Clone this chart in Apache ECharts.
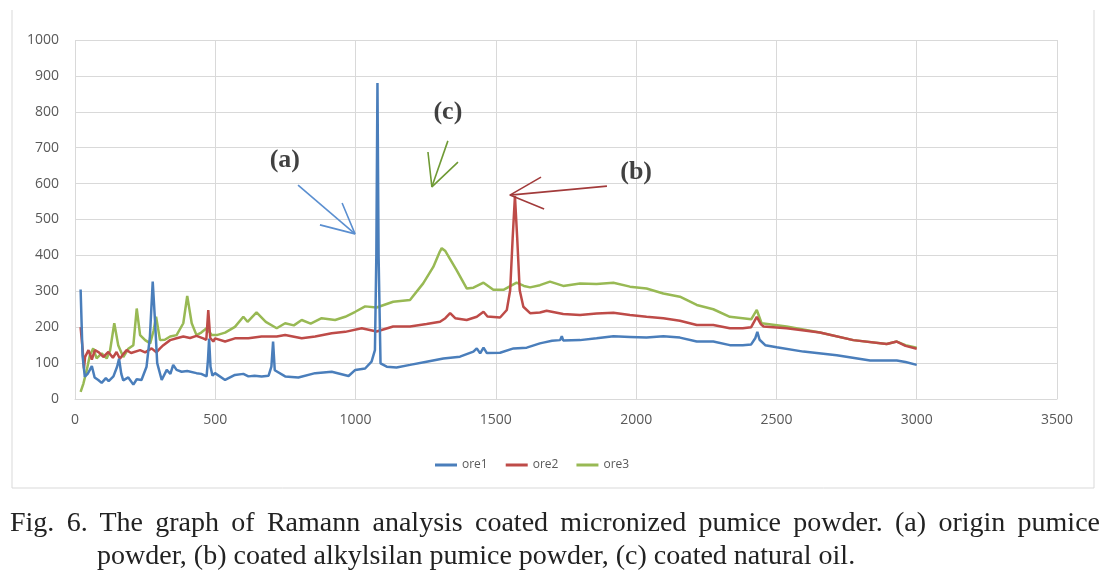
<!DOCTYPE html>
<html>
<head>
<meta charset="utf-8">
<script src="https://cdn.jsdelivr.net/npm/echarts@6/dist/echarts.min.js"></script>
<style>
html,body{margin:0;padding:0;background:#fff;}
#wrap{position:relative;width:1115px;height:576px;overflow:hidden;}
#chart{position:absolute;left:0;top:0;width:1115px;height:576px;}
.cap{position:absolute;font-family:"Liberation Serif","DejaVu Serif",serif;font-size:28px;line-height:32px;color:#222;white-space:nowrap;}
#cap1{left:10px;top:506px;width:1090px;text-align:justify;text-align-last:justify;white-space:normal;}
#cap2{left:97px;top:539px;}
</style>
</head>
<body>
<div id="wrap">
<div id="chart"></div>
<div class="cap" id="cap1">Fig. 6. The graph of Ramann analysis coated micronized pumice powder. (a) origin pumice</div>
<div class="cap" id="cap2">powder, (b) coated alkylsilan pumice powder, (c) coated natural oil.</div>
</div>
<script>
// ---- data (Raman shift, intensity) ----
const seriesNames = ['ore1', 'ore2', 'ore3'];
const xTicks = [0, 500, 1000, 1500, 2000, 2500, 3000, 3500];
const yTicks = [0, 100, 200, 300, 400, 500, 600, 700, 800, 900, 1000];

const ore1X = [20,27,35,45,53,60,70,83,95,101,110,120,137,150,157,165,172,190,208,220,237,255,267,277,285,293,309,327,340,350,362,380,400,433,450,469,474,478,483,490,499,535,570,600,618,640,665,690,700,706,712,749,796,856,915,975,999,1034,1057,1069,1074,1078,1082,1089,1111,1146,1194,1253,1313,1372,1420,1432,1444,1456,1468,1515,1563,1610,1657,1669,1700,1729,1735,1740,1800,1859,1919,1978,2037,2097,2156,2216,2275,2334,2380,2410,2425,2432,2440,2460,2501,2596,2715,2834,2929,2960,3000];
const ore1Y = [305,120,62,70,81,92,60,53,45,40,58,50,63,90,112,70,52,60,40,55,53,90,174,327,220,100,53,81,70,95,81,76,78,72,70,63,110,168,90,65,72,53,67,70,63,65,63,65,90,160,80,63,60,72,76,64,81,85,104,136,400,880,400,99,90,88,95,104,113,118,132,141,127,143,128,129,141,143,155,157,162,164,175,163,164,169,175,173,171,175,171,160,160,150,150,152,170,187,165,150,144,132,122,107,107,103,95];

const ore2X = [20,27,32,36,48,60,71,85,101,119,135,148,160,172,184,200,232,250,273,290,303,315,339,362,386,410,433,457,468,475,482,493,499,535,570,618,665,719,749,808,856,915,963,1022,1075,1134,1194,1253,1301,1320,1337,1355,1396,1432,1456,1470,1515,1539,1551,1560,1568,1576,1585,1598,1622,1657,1681,1740,1800,1859,1919,1978,2037,2097,2156,2216,2275,2334,2380,2410,2430,2445,2454,2536,2655,2774,2893,2929,2960,3000];
const ore2Y = [200,140,85,117,136,110,136,130,117,131,115,131,112,125,136,128,136,130,141,130,141,150,164,169,174,170,176,169,165,248,170,160,169,160,169,169,174,174,178,169,174,183,187,197,188,202,202,209,215,225,239,225,220,229,243,230,227,248,303,450,565,450,303,257,239,241,246,237,234,238,240,234,229,225,218,206,206,197,197,200,229,208,202,197,185,164,153,160,148,140];

const ore3X = [20,30,42,53,65,77,95,113,125,140,154,172,190,208,220,232,250,268,280,289,303,320,339,362,386,400,416,433,450,469,487,505,535,570,600,615,647,680,719,749,780,808,840,879,927,963,999,1034,1075,1134,1194,1241,1277,1300,1307,1320,1360,1396,1420,1456,1491,1527,1574,1600,1622,1657,1693,1740,1800,1859,1919,1978,2037,2097,2156,2216,2275,2334,2380,2410,2430,2447,2536,2655,2774,2893,2929,2960,3000];
const ore3Y = [20,43,81,122,141,113,127,113,135,211,150,117,140,150,252,178,164,155,190,229,164,165,174,178,211,287,211,178,185,197,178,178,185,201,229,215,241,215,197,211,205,220,210,225,220,229,243,258,255,271,276,322,368,410,420,412,359,308,310,324,304,304,324,315,311,317,327,315,322,320,324,313,308,294,285,262,250,229,225,222,248,211,202,185,164,153,160,150,143];

// annotations (data coordinates)
const annoLabels = [
  {name: '(a)', value: [748, 666]},
  {name: '(c)', value: [1329, 799]},
  {name: '(b)', value: [2000, 632]}
];
const arrowA = {color: '#5b8fd0', shaft: [[795, 596], [998, 460]], head: [[873, 485], [998, 460], [952, 546]]};
const arrowC = {color: '#6f9a35', shaft: [[1329, 719], [1272, 591]], head: [[1258, 688], [1272, 591], [1365, 660]]};
const arrowB = {color: '#a23b3b', shaft: [[1896, 593], [1550, 568]], head: [[1661, 618], [1550, 568], [1672, 529]]};

// ---- build ----
const zip = (xs, ys) => xs.map((x, i) => [x, ys[i]]);
const colors = ['#4a7ebb', '#be4b48', '#98b954'];
const dataSets = [zip(ore1X, ore1Y), zip(ore2X, ore2Y), zip(ore3X, ore3Y)];

const series = seriesNames.map((n, i) => ({
  name: n, type: 'line', data: dataSets[i], showSymbol: false, symbol: 'none',
  lineStyle: {color: colors[i], width: 2.5}, itemStyle: {color: colors[i]},
  z: i === 0 ? 4 : (i === 1 ? 3 : 2)
}));

[arrowA, arrowC, arrowB].forEach(a => {
  [a.shaft, a.head].forEach(d => series.push({
    type: 'line', data: d, showSymbol: false, symbol: 'none', silent: true,
    lineStyle: {color: a.color, width: 1.6}, z: 6
  }));
});
series.push({
  type: 'scatter', symbolSize: 0, silent: true, z: 7,
  data: annoLabels.map(l => ({name: l.name, value: l.value})),
  label: {show: true, position: 'inside', formatter: p => p.name,
    fontFamily: '"Liberation Serif", serif', fontSize: 26, fontWeight: 'bold', color: '#111'}
});

const chart = echarts.init(document.getElementById('chart'), null, {renderer: 'canvas'});
chart.setOption({
  animation: false,
  backgroundColor: '#fff',
  grid: {left: 75, right: 58, top: 40, bottom: 177, containLabel: false},
  legend: {
    data: seriesNames, left: 430, top: 454, icon: 'rect', itemWidth: 22, itemHeight: 3, itemGap: 18,
    textStyle: {color: '#595959', fontSize: 12, fontFamily: '"Open Sans", sans-serif'}
  },
  xAxis: {
    type: 'value', min: xTicks[0], max: xTicks[xTicks.length - 1], interval: 500,
    axisLine: {show: true, lineStyle: {color: '#d9d9d9'}}, axisTick: {show: false},
    splitLine: {show: true, lineStyle: {color: '#d9d9d9'}},
    axisLabel: {color: '#595959', fontSize: 14, margin: 14, fontFamily: '"Open Sans", sans-serif',
      formatter: v => String(v)}
  },
  yAxis: {
    type: 'value', min: yTicks[0], max: yTicks[yTicks.length - 1], interval: 100,
    axisLine: {show: false}, axisTick: {show: false},
    splitLine: {show: true, lineStyle: {color: '#d9d9d9'}},
    axisLabel: {color: '#595959', fontSize: 14, margin: 16, fontFamily: '"Open Sans", sans-serif',
      formatter: v => String(v)}
  },
  graphic: [{
    type: 'polyline', silent: true,
    shape: {points: [[12, 10], [12, 488], [1094, 488], [1094, 10]]},
    style: {stroke: '#d9d9d9', lineWidth: 1, fill: null}
  }],
  series: series
});
</script>
</body>
</html>
